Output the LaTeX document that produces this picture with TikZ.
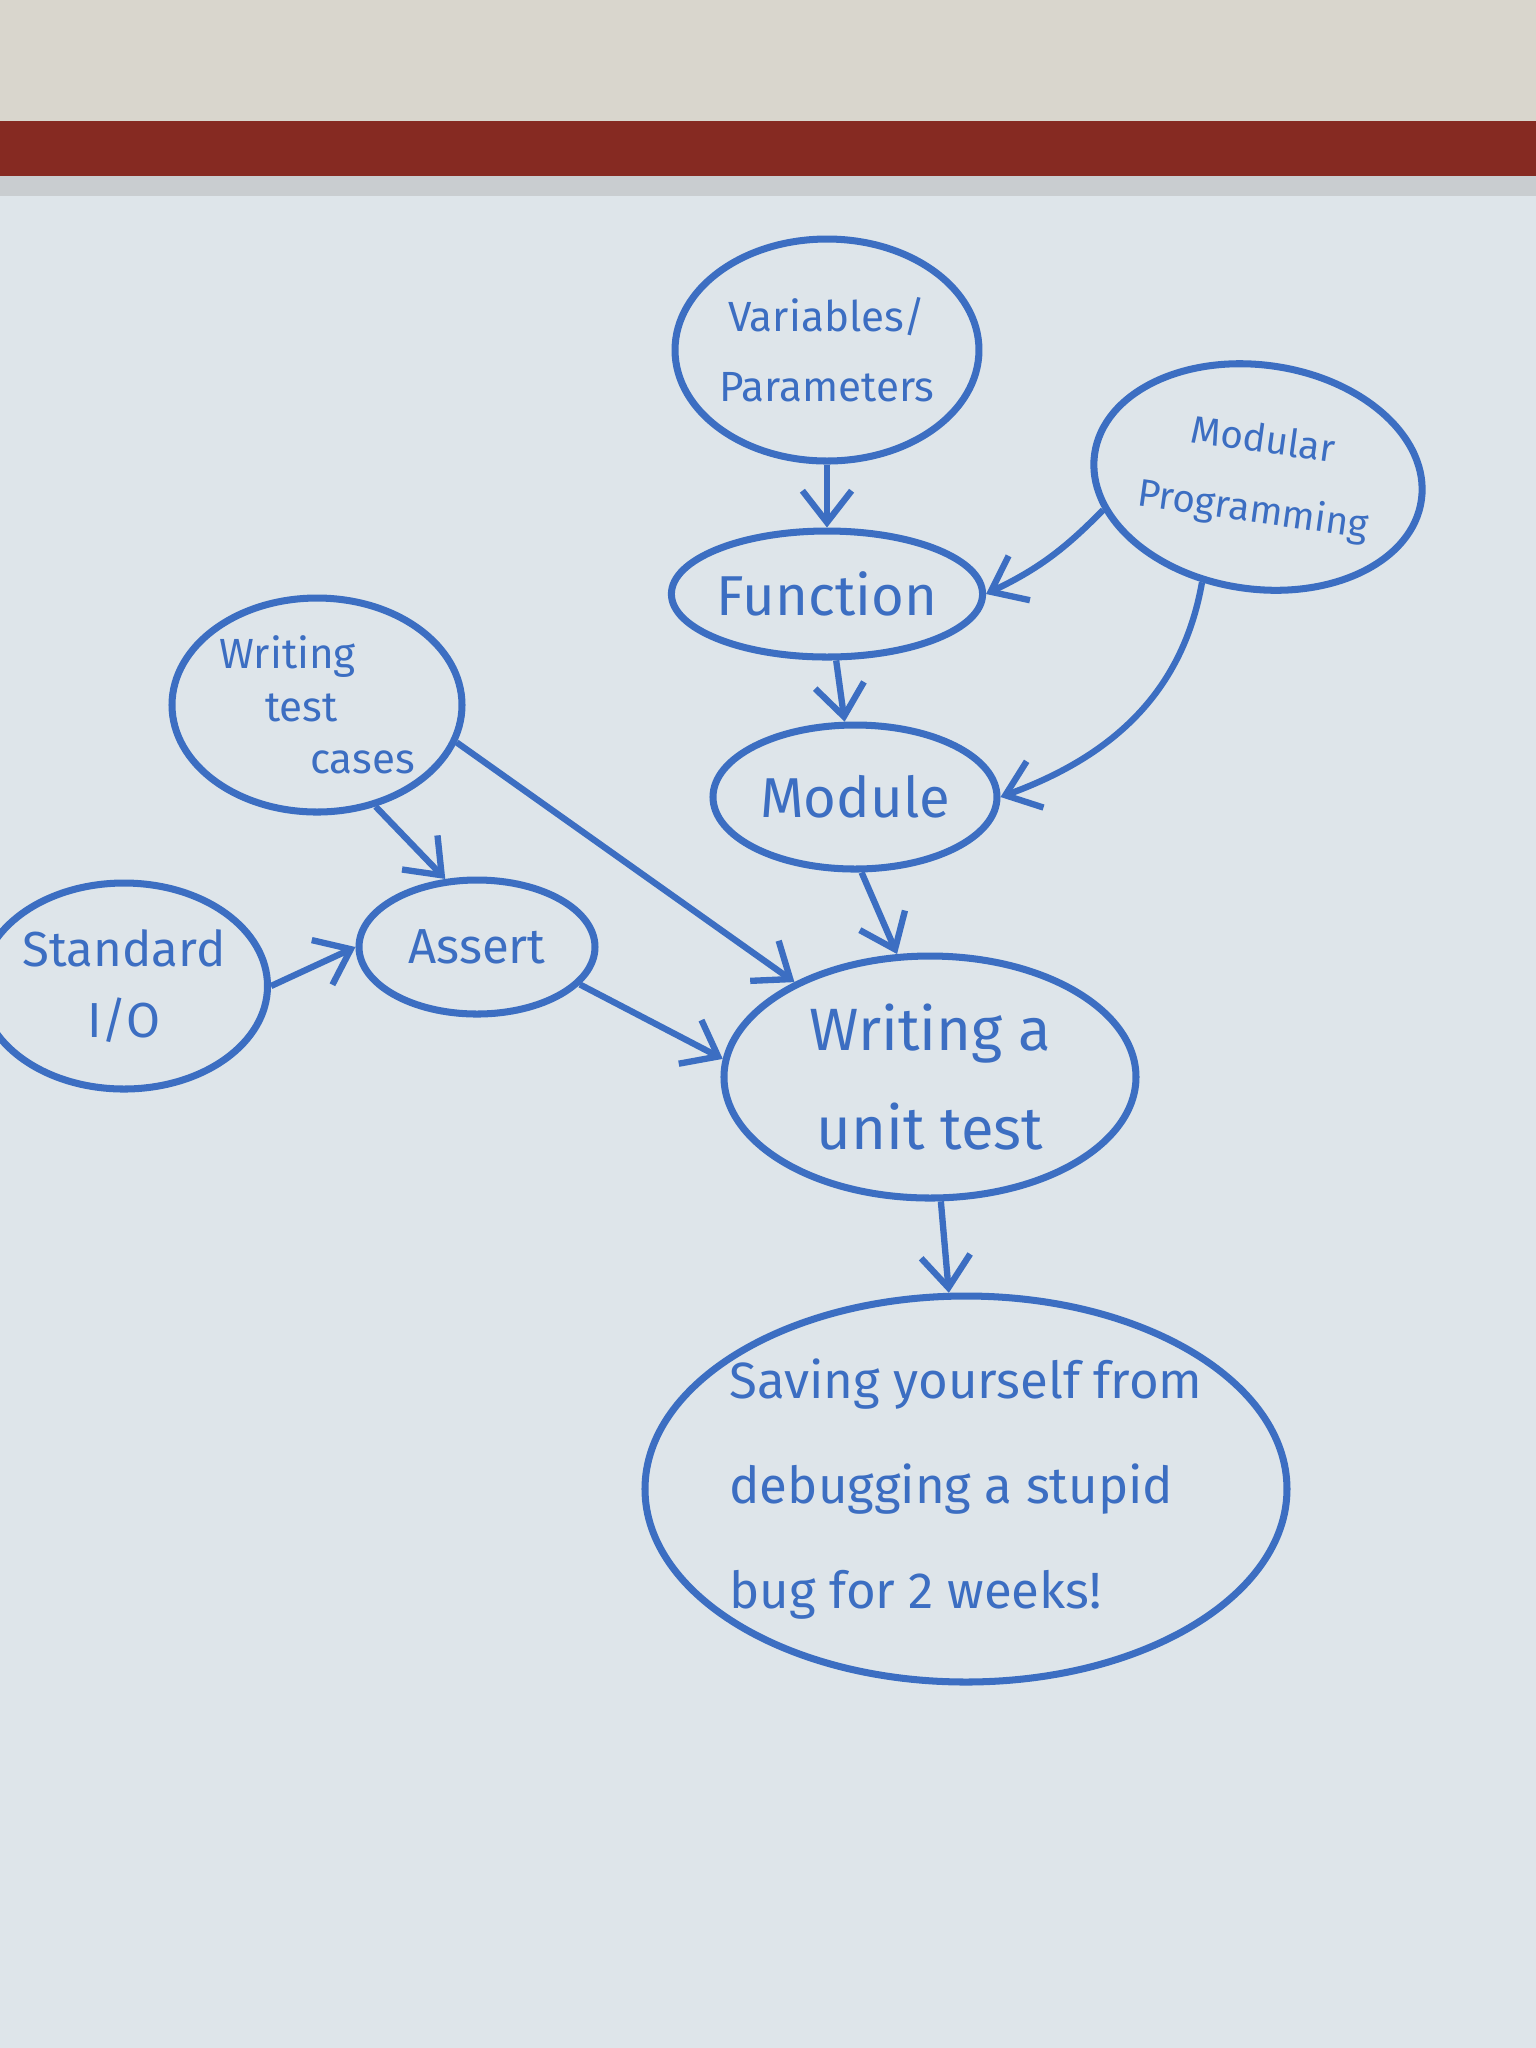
\documentclass[tikz,border=0pt]{standalone}
\usepackage{fontspec}
\setmainfont{Fira Sans}
\usetikzlibrary{shapes.geometric,arrows.meta}
\definecolor{marker}{HTML}{3C6EC2}
\definecolor{board}{HTML}{DEE5EA}
\definecolor{wall}{HTML}{D9D6CD}
\definecolor{rail}{HTML}{862A22}
\definecolor{metal}{HTML}{C9CDD0}

\begin{document}
\begin{tikzpicture}[
    bubble/.style={draw=marker, ellipse, line width=2pt, text=marker, inner sep=0pt, align=center},
    link/.style={draw=marker, line width=1.8pt, -{Straight Barb[length=9pt,width=14pt]}}
  ]
  \useasboundingbox (0,0) rectangle (15.36,-20.48);

  % wall, rail and board
  \fill[wall] (0,0) rectangle (15.36,-1.21);
  \fill[rail] (0,-1.21) rectangle (15.36,-1.76);
  \fill[metal] (0,-1.76) rectangle (15.36,-1.96);
  \fill[board] (0,-1.96) rectangle (15.36,-20.48);

  % upper chain
  \node[bubble, minimum width=2.74cm, minimum height=2.22cm, font=\fontsize{12}{20}\selectfont]
    (var) at (8.27,-3.50) {Variables/\\Parameters};
  \node[bubble, minimum width=3.30cm, minimum height=2.24cm, font=\fontsize{11}{20}\selectfont, rotate=-8]
    (modprog) at (12.58,-4.77) {Modular\\Programming};
  \node[bubble, minimum width=2.76cm, minimum height=1.26cm, font=\fontsize{16}{20}\selectfont]
    (func) at (8.27,-5.94) {Function};
  \node[bubble, minimum width=2.84cm, minimum height=1.44cm, font=\fontsize{16}{20}\selectfont]
    (module) at (8.55,-7.97) {Module};

  % left side
  \node[bubble, minimum width=2.90cm, minimum height=2.14cm, font=\fontsize{12}{15}\selectfont, align=left]
    (cases) at (3.17,-7.05) {Writing\\\hspace*{0.46cm}test\\\hspace*{0.91cm}cases};
  \node[bubble, minimum width=2.36cm, minimum height=1.34cm, font=\fontsize{14}{18}\selectfont]
    (assert) at (4.77,-9.47) {Assert};
  \node[bubble, minimum width=2.54cm, minimum height=2.06cm, font=\fontsize{14}{20}\selectfont]
    (stdio) at (1.24,-9.86) {Standard\\I/O};

  % bottom
  \node[bubble, minimum width=4.12cm, minimum height=2.42cm, font=\fontsize{17}{28}\selectfont]
    (unit) at (9.30,-10.77) {Writing a\\unit test};
  \node[bubble, minimum width=6.42cm, minimum height=3.86cm, inner xsep=-0.4cm, inner ysep=-0.3cm,
    font=\fontsize{14.5}{30}\selectfont, align=left]
    (saving) at (9.66,-14.89) {Saving yourself from\\debugging a stupid\\bug for 2 weeks!};

  \draw[link] (var) -- (func);
  \draw[link] (modprog.200) to[bend left=10] (func.east);
  \draw[link] (modprog.250) to[out=-100,in=20] (module.east);
  \draw[link] (func) -- (module);
  \draw[link] (module.-85) -- (unit.105);
  \draw[link] (cases.-60) -- (assert.115);
  \draw[link] (cases.-15) -- (unit.145);
  \draw[link] (stdio.east) -- (assert.west);
  \draw[link] (assert.-20) -- (unit.175);
  \draw[link] (unit) -- (saving);
\end{tikzpicture}
\end{document}
